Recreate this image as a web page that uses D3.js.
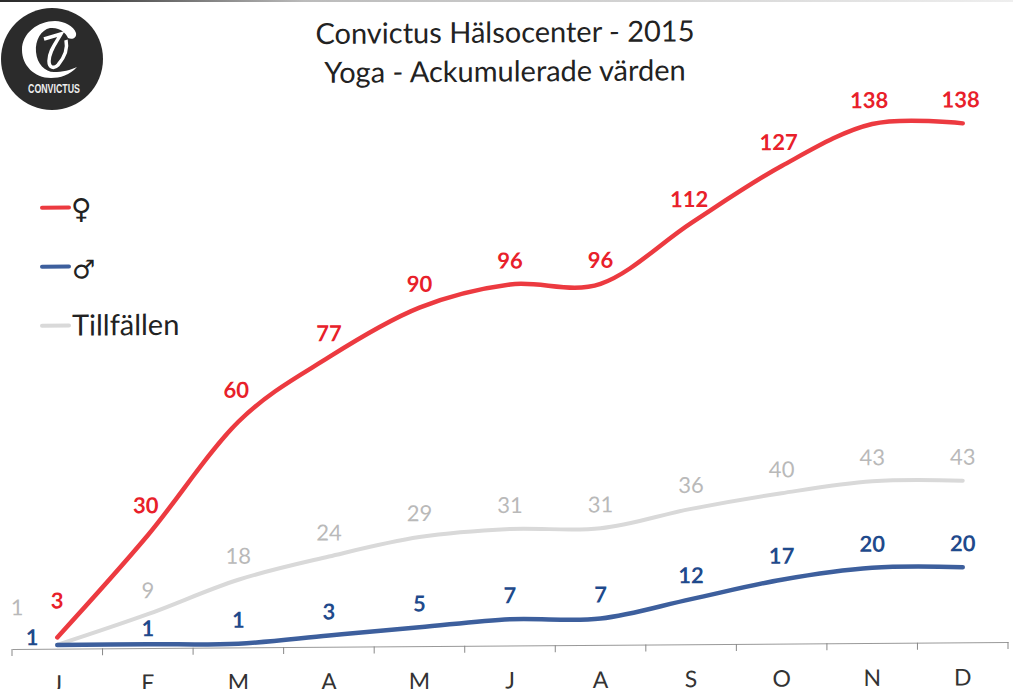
<!DOCTYPE html>
<html>
<head>
<meta charset="utf-8">
<script src="https://cdn.jsdelivr.net/npm/d3@7"></script>
<style>
  html, body { margin: 0; background: #fff; }
  svg { display: block; }
  text { font-family: Lato, "Open Sans", sans-serif; }
</style>
</head>
<body>
<div id="content"></div>
<script>
// data
const months = ["J", "F", "M", "A", "M ", "J ", "A ", "S", "O", "N", "D"]; // trailing space keeps the band keys unique
const kvinnor = [3, 30, 60, 77, 90, 96, 96, 112, 127, 138, 138];
const man = [1, 1, 1, 3, 5, 7, 7, 12, 17, 20, 20];
const tillfallen = [1, 9, 18, 24, 29, 31, 31, 36, 40, 43, 43];
const legendNames = ["♀", "♂", "Tillfällen"];
const titleLines = ["Convictus Hälsocenter - 2015", "Yoga - Ackumulerade värden"];

const width = 1013, height = 689;

const svg = d3.select("#content").append("svg")
  .attr("width", width)
  .attr("height", height);

// the page was scanned a little crooked, the baseline climbs to the right
const chart = svg.append("g").attr("transform", "translate(12,649) skewY(-0.4) translate(-12,-649)");

const x = d3.scaleBand().domain(months).range([12, 1008]);
const y = d3.scaleLinear().domain([0, 138]).range([649, 130]);
const xc = d => x(d) + x.bandwidth() / 2;

// scan edge along the top
const edge = svg.append("defs").append("linearGradient").attr("id", "edge");
edge.append("stop").attr("offset", "0").attr("stop-color", "#2a2a2a");
edge.append("stop").attr("offset", "0.1").attr("stop-color", "#444");
edge.append("stop").attr("offset", "0.3").attr("stop-color", "#bbb");
edge.append("stop").attr("offset", "1").attr("stop-color", "#eee");
svg.append("rect").attr("width", width).attr("height", 2).attr("fill", "url(#edge)");

// title
chart.selectAll(".title").data(titleLines).join("text")
  .attr("class", "title")
  .attr("x", 505)
  .attr("y", (d, i) => 46 + i * 39)
  .attr("text-anchor", "middle")
  .attr("font-size", 29)
  .attr("fill", "#222")
  .text(d => d);

// x axis, labels centred in the bands, ticks on the band edges
const axis = chart.append("g")
  .attr("transform", "translate(0,649)")
  .call(d3.axisBottom(x).tickSize(0).tickSizeOuter(0));
axis.select(".domain").attr("stroke", "#999");
axis.selectAll("text")
  .attr("y", 43)
  .attr("dy", 0)
  .attr("font-family", "Lato")
  .attr("font-size", 23)
  .attr("fill", "#333")
  .text(d => d.trim());
axis.selectAll(".edge").data(d3.range(months.length + 1)).join("line")
  .attr("class", "edge")
  .attr("x1", i => x.range()[0] + i * x.step())
  .attr("x2", i => x.range()[0] + i * x.step())
  .attr("y1", 0)
  .attr("y2", 7)
  .attr("stroke", "#888");

const line = d3.line()
  .x((d, i) => xc(months[i]))
  .y(d => y(d))
  .curve(d3.curveCardinal.tension(0));

const series = [
  { values: tillfallen, line: "#d9d9d9", label: "#b9b9b9", bold: false, w: 4, nudge: { 0: [-40, -14] } },
  { values: man, line: "#3d5f9d", label: "#1f4a8c", bold: true, w: 4.5, nudge: { 0: [-25, 16], 1: [0, 8] } },
  { values: kvinnor, line: "#ec3a40", label: "#e8202a", bold: true, w: 4.5, nudge: { 0: [0, -13], 1: [-2, -6], 2: [-2, -8], 7: [-2, 0], 8: [-3, 0], 9: [-3, 0], 10: [-2, 0] } }
];

series.forEach(s => {
  chart.append("path")
    .attr("d", line(s.values))
    .attr("fill", "none")
    .attr("stroke", s.line)
    .attr("stroke-width", s.w)
    .attr("stroke-linecap", "round");

  chart.selectAll(null).data(s.values).join("text")
    .attr("x", (d, i) => xc(months[i]) + (s.nudge[i] ? s.nudge[i][0] : 0))
    .attr("y", (d, i) => y(d) - 16 + (s.nudge[i] ? s.nudge[i][1] : 0))
    .attr("text-anchor", "middle")
    .attr("font-size", 22)
    .attr("font-weight", s.bold ? 700 : 400)
    .attr("fill", s.label)
    .text(d => d);
});

// legend
const legendColors = ["#ec3a40", "#3d5f9d", "#d9d9d9"];
const legendDy = [11, 12, 10];
const legendSize = [28, 26, 29];
const legend = chart.selectAll(".legend").data(legendNames).join("g")
  .attr("class", "legend")
  .attr("transform", (d, i) => "translate(0," + (208 + i * 59) + ")");
legend.append("line")
  .attr("x1", 42).attr("x2", 69)
  .attr("stroke", (d, i) => legendColors[i])
  .attr("stroke-width", 4)
  .attr("stroke-linecap", "round");
legend.append("text")
  .attr("x", (d, i) => i == 0 ? 71 : 72)
  .attr("y", (d, i) => legendDy[i])
  .attr("font-size", (d, i) => legendSize[i])
  .style("font-family", (d, i) => i == 2 ? "Lato" : "'DejaVu Sans'")
  .attr("fill", "#222")
  .text(d => d);

// logo
const logo = svg.append("g").attr("transform", "translate(52,59)");
logo.append("circle").attr("r", 51).attr("fill", "#2b2b2b");
logo.append("path")
  .attr("fill", "#fff")
  .attr("d", "M25,8 C18,16 8,19 -1,19 C-18,19 -30,6 -30,-9 C-30,-26 -14,-38 3,-38 C12,-38 22,-33 24,-26 C25,-21 20,-19 16,-21 C14,-26 8,-32 -2,-31 C-11,-29 -17,-19 -16,-7 C-15,5 -7,13 2,13 C10,13 19,11 25,8 Z");
logo.append("path")
  .attr("fill", "none")
  .attr("stroke", "#fff")
  .attr("stroke-width", 3.5)
  .attr("d", "M-8,-20 L9,-25 C4,-16 -3,-8 -3,2 C-3,9 2,10 6,6 C12,-1 16,-10 14,-19");
logo.append("text")
  .attr("x", 2)
  .attr("y", 34)
  .attr("text-anchor", "middle")
  .attr("font-size", 12)
  .attr("font-weight", 700)
  .attr("textLength", 52)
  .attr("lengthAdjust", "spacingAndGlyphs")
  .style("font-family", "'Liberation Sans'")
  .attr("fill", "#eee")
  .text("CONVICTUS");
</script>
</body>
</html>
